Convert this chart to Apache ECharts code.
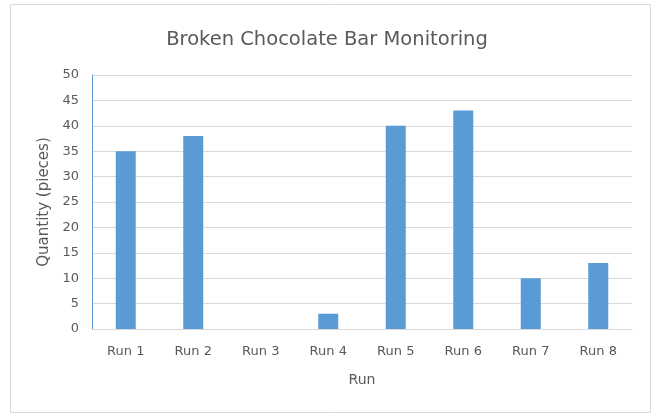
<!DOCTYPE html>
<html style="height: 100%">
<head>
<meta charset="utf-8">
<script src="https://cdn.jsdelivr.net/npm/echarts@6/dist/echarts.min.js"></script>
</head>
<body style="height: 100%; margin: 0; background: #fff">
<div id="container" style="width: 654px; height: 414px"></div>
<script type="text/javascript">
var runs = ['Run 1', 'Run 2', 'Run 3', 'Run 4', 'Run 5', 'Run 6', 'Run 7', 'Run 8'];
var quantities = [35, 38, 0, 3, 40, 43, 10, 13];
var yTicks = { min: 0, max: 50, interval: 5 };

var myChart = echarts.init(document.getElementById('container'));
var font = '"DejaVu Sans", sans-serif';
var option = {
    animation: false,
    textStyle: { fontFamily: font },
    graphic: [{
        type: 'rect',
        shape: { x: 10.5, y: 4.5, width: 640, height: 408 },
        style: { fill: 'none', stroke: '#d9d9d9', lineWidth: 1 },
        silent: true
    }],
    title: {
        text: 'Broken Chocolate Bar Monitoring',
        left: 'center',
        top: 25,
        textStyle: { fontSize: 19.5, fontWeight: 'normal', color: '#595959', fontFamily: font }
    },
    grid: { left: 92, right: 22, top: 75, bottom: 85, containLabel: false },
    xAxis: {
        type: 'category',
        data: runs,
        name: 'Run',
        nameLocation: 'middle',
        nameGap: 44,
        nameTextStyle: { fontSize: 14, color: '#595959' },
        axisLine: { lineStyle: { color: '#d9d9d9', width: 1 } },
        axisTick: { show: false },
        axisLabel: { color: '#595959', fontSize: 13, margin: 16 }
    },
    yAxis: {
        type: 'value',
        min: yTicks.min,
        max: yTicks.max,
        interval: yTicks.interval,
        name: 'Quantity (pieces)',
        nameLocation: 'middle',
        nameGap: 37,
        nameRotate: 90,
        nameTextStyle: { fontSize: 15, color: '#595959' },
        axisLine: { show: true, lineStyle: { color: '#5b9bd5', width: 1 } },
        axisTick: { show: false },
        axisLabel: { color: '#595959', fontSize: 13, margin: 13 },
        splitLine: { lineStyle: { color: '#d9d9d9', width: 1 } }
    },
    series: [{
        type: 'bar',
        data: quantities,
        barWidth: 20,
        itemStyle: { color: '#5b9bd5' }
    }]
};
myChart.setOption(option);
</script>
</body>
</html>
